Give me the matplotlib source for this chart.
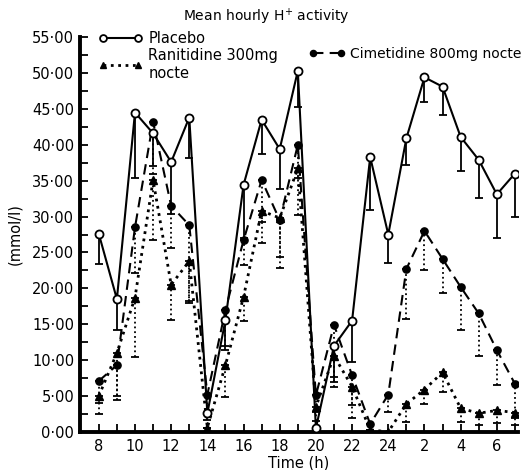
import matplotlib
matplotlib.use('Agg')
import matplotlib.pyplot as plt
import numpy as np

# clock hours, plotted on a continuous axis (8 h day 1 .. 7 h day 2)
hours = [8, 9, 10, 11, 12, 13, 14, 15, 16, 17, 18, 19, 20, 21, 22, 23,
         24, 25, 26, 27, 28, 29, 30, 31]
tick_pos = [8, 10, 12, 14, 16, 18, 20, 22, 24, 26, 28, 30]
tick_labels = ['8', '10', '12', '14', '16', '18', '20', '22', '24', '2', '4', '6']

# mean hourly H+ activity (mmol/l) and lower end of the error bar
placebo = [27.6, 18.5, 44.5, 41.6, 37.6, 43.8, 2.6, 15.6, 34.4, 43.5, 39.4, 50.3,
           0.5, 12.0, 15.5, 38.3, 27.5, 40.9, 49.4, 48.1, 41.1, 37.9, 33.1, 36.0]
placebo_lo = [23.4, 14.2, 35.4, 37.0, 30.4, 38.1, 1.6, 11.4, 27.0, 38.7, 33.8, 45.3,
              0.5, 7.0, 9.8, 30.9, 23.6, 37.2, 45.9, 44.2, 36.3, 32.6, 27.0, 29.9]

ranitidine = [5.0, 11.0, 18.7, 35.1, 20.5, 23.8, 0.6, 9.3, 18.8, 30.8, 29.8, 36.7,
              3.5, 10.6, 6.3, 0.3, 0.0, 3.9, 5.9, 8.3, 3.3, 2.6, 3.0, 2.7]
ranitidine_lo = [2.5, 4.5, 10.4, 26.7, 15.6, 18.0, 0.6, 4.8, 15.4, 26.3, 22.8, 30.2,
                 1.5, 6.3, 1.9, 0.3, 0.0, 1.4, 3.9, 5.5, 1.4, 1.0, 1.2, 1.0]

cimetidine = [7.1, 9.3, 28.5, 43.2, 31.5, 28.8, 5.2, 17.0, 26.7, 35.1, 29.5, 40.0,
              5.1, 14.9, 7.9, 1.1, 5.2, 22.7, 28.0, 24.1, 20.2, 16.5, 11.4, 6.7]
cimetidine_lo = [4.0, 5.0, 22.2, 36.0, 25.6, 18.3, 2.5, 12.0, 23.3, 29.2, 24.4, 35.4,
                 2.8, 7.7, 3.8, 1.1, 2.8, 15.8, 22.6, 19.3, 14.2, 10.6, 6.5, 1.9]

FS = 10.5

fig = plt.figure(figsize=(5.32, 4.70), dpi=100)
ax = fig.add_axes([0.150, 0.081, 0.823, 0.840])


def draw_errors(y, lo, style, lw):
    y = np.array(y)
    lo = np.array(lo)
    eb = ax.errorbar(hours, y, yerr=[y - lo, np.zeros_like(y)], fmt='none',
                     ecolor='black', elinewidth=lw, capsize=3.0, capthick=lw,
                     zorder=2)
    eb[2][0].set_linestyle(style)


draw_errors(placebo, placebo_lo, '-', 1.3)
draw_errors(ranitidine, ranitidine_lo, ':', 1.3)
draw_errors(cimetidine, cimetidine_lo, ':', 1.3)

l_pla, = ax.plot(hours, placebo, '-', color='black', lw=1.5, marker='o',
                 markersize=5.8, markerfacecolor='white', markeredgewidth=1.3,
                 zorder=5, label='Placebo')
l_ran, = ax.plot(hours, ranitidine, ':', color='black', lw=2.0, marker='^',
                 markersize=5.2, zorder=4, label='Ranitidine 300mg\nnocte')
l_cim, = ax.plot(hours, cimetidine, color='black', lw=1.5, marker='o',
                 markersize=5.2, zorder=4, label='Cimetidine 800mg nocte')
l_cim.set_dashes([5, 3])

ax.set_xlim(6.95, 31.15)
ax.set_ylim(0, 55)

for s in ['top', 'right']:
    ax.spines[s].set_visible(False)
for s in ['left', 'bottom']:
    ax.spines[s].set_linewidth(2.8)

ax.set_yticks(np.arange(0, 55.1, 5))
ax.set_yticklabels([f'{v:.2f}'.replace('.', '·') for v in np.arange(0, 55.1, 5)])
ax.set_yticks(np.arange(2.5, 55, 5), minor=True)
ax.set_xticks(tick_pos)
ax.set_xticklabels(tick_labels)
ax.set_xticks([h for h in hours if h not in tick_pos], minor=True)
ax.tick_params(axis='both', which='both', direction='in', length=6, width=1.3,
               labelsize=FS, colors='black')
ax.tick_params(axis='y', pad=4)
ax.tick_params(axis='x', pad=5)

ax.set_xlabel('Time (h)', fontsize=FS, labelpad=1)
ax.set_ylabel('(mmol/l)', fontsize=FS, labelpad=7)
fig.text(0.5, 0.965, 'Mean hourly H$^{+}$ activity', ha='center', va='center',
         fontsize=10)

leg1 = ax.legend(handles=[l_pla, l_ran], loc='upper left', frameon=False,
                 bbox_to_anchor=(0.03, 1.03), numpoints=2, handlelength=3.0,
                 handletextpad=0.4, labelspacing=0.15, borderaxespad=0,
                 fontsize=FS, markerscale=0.85)
ax.add_artist(leg1)
ax.legend(handles=[l_cim], loc='upper left', frameon=False,
          bbox_to_anchor=(0.51, 0.99), numpoints=2, handlelength=2.6,
          handletextpad=0.4, borderaxespad=0, fontsize=10, markerscale=0.85)

fig.savefig('out.png', dpi=100)
